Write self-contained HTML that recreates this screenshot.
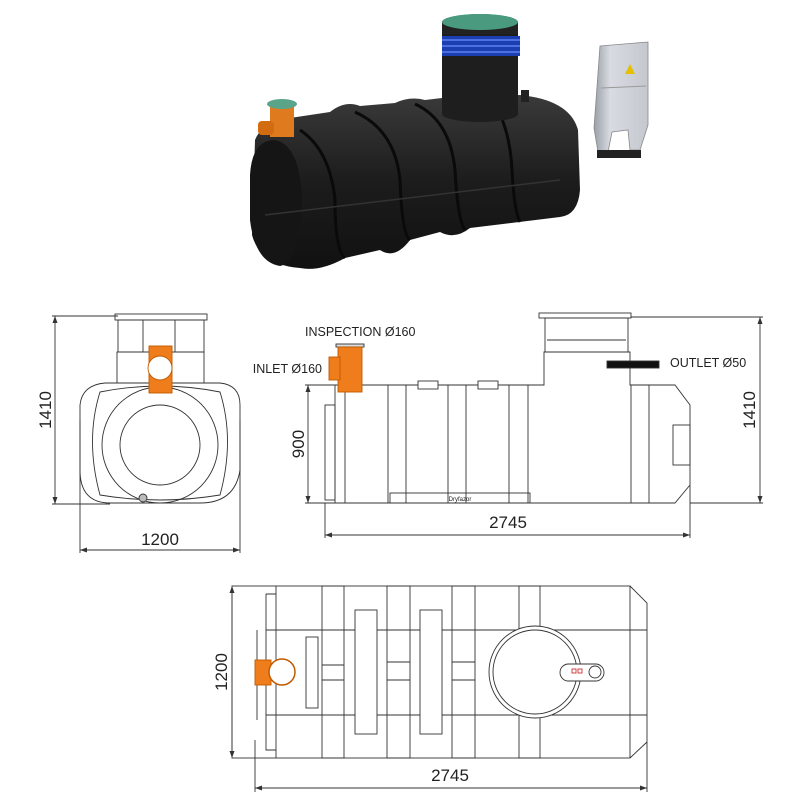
<!DOCTYPE html>
<html><head><meta charset="utf-8"><style>
html,body{margin:0;padding:0;background:#fff}
svg{display:block}
text{font-family:"Liberation Sans",sans-serif;fill:#222}
</style></head><body>
<svg width="800" height="800" viewBox="0 0 800 800" xmlns="http://www.w3.org/2000/svg">
<defs>
<linearGradient id="tk" x1="0" y1="0" x2="0" y2="1"><stop offset="0" stop-color="#3a3a3a"/><stop offset="0.5" stop-color="#1c1c1c"/><stop offset="1" stop-color="#111"/></linearGradient>
<linearGradient id="cab" x1="0" y1="0" x2="1" y2="0"><stop offset="0" stop-color="#9aa0a8"/><stop offset="0.3" stop-color="#d8dce2"/><stop offset="1" stop-color="#c4c8ce"/></linearGradient>
</defs>
<!-- 3D render -->
<g>
<path d="M255,140 Q262,122 290,118 L330,112 Q345,100 360,106 L395,103 Q410,96 425,100 L442,98 L520,95 Q570,100 578,130 L580,190 Q578,215 560,217 L470,228 Q455,240 440,232 L410,240 Q395,260 380,250 L345,258 Q320,272 300,268 Q260,265 252,235 Z" fill="url(#tk)"/>
<path d="M250,175 Q252,140 275,140 Q300,145 302,200 Q300,262 280,266 Q255,262 250,220 Z" fill="#151515"/>
<g stroke="#0a0a0a" stroke-width="3" fill="none">
<path d="M300,130 Q330,150 335,200 Q335,250 345,258"/>
<path d="M355,112 Q395,130 400,180 Q402,235 410,240"/>
<path d="M415,104 Q450,120 455,170 Q458,222 465,230"/>
<path d="M495,105 Q510,130 512,170 Q514,210 520,222"/>
</g>
<path d="M265,215 L560,180" stroke="#333" stroke-width="1.5"/>
<rect x="442" y="30" width="76" height="85" fill="#1e1e1e"/>
<ellipse cx="480" cy="114" rx="38" ry="8" fill="#1e1e1e"/>
<rect x="442" y="36" width="78" height="20" fill="#1b3fb0"/>
<g stroke="#4d70e0" stroke-width="2"><line x1="442" y1="40" x2="520" y2="40"/><line x1="442" y1="46" x2="520" y2="46"/><line x1="442" y1="52" x2="520" y2="52"/></g>
<ellipse cx="480" cy="22" rx="38" ry="8" fill="#3e8f75"/>
<rect x="442" y="22" width="76" height="12" fill="#222"/>
<ellipse cx="480" cy="22" rx="38" ry="8" fill="#4a9a80"/>
<rect x="521" y="90" width="8" height="12" fill="#222"/>
<rect x="270" y="105" width="24" height="32" fill="#e07a1e"/>
<rect x="258" y="121" width="16" height="14" rx="4" fill="#d36c10"/>
<ellipse cx="282" cy="104" rx="15" ry="5" fill="#5aa48a"/>
<!-- cabinet -->
<path d="M600,46 L648,42 L648,125 L640,150 L630,150 L628,130 L612,132 L608,152 L598,152 L594,128 Z" fill="url(#cab)" stroke="#888" stroke-width="0.8"/>
<rect x="597" y="150" width="44" height="8" fill="#222"/>
<line x1="601" y1="88" x2="646" y2="86" stroke="#999"/>
<polygon points="630,64 635,74 625,74" fill="#e5c000"/>
</g>

<g stroke="#333" stroke-width="0.9" fill="none">
<!-- FRONT VIEW -->
<rect x="115" y="314" width="92" height="6" fill="#fff"/>
<rect x="118" y="320" width="86" height="32"/>
<line x1="143" y1="320" x2="143" y2="352"/><line x1="175" y1="320" x2="175" y2="352"/>
<rect x="117" y="352" width="87" height="31"/>
<path d="M105,383 L220,383 Q240,385 240,405 L240,470 Q235,503 200,503 L110,503 Q80,503 80,470 L80,405 Q82,385 105,383 Z"/>
<path d="M100,392 Q160,380 220,392 Q235,440 220,495 Q160,505 100,495 Q85,440 100,392 Z"/>
<circle cx="160" cy="445" r="58"/>
<circle cx="160" cy="445" r="40"/>
<rect x="149" y="346" width="23" height="47" fill="#f07d1b" stroke="#c05a00"/>
<circle cx="160" cy="368" r="12" fill="#fff" stroke="#c05a00"/>
<circle cx="143" cy="498" r="4" fill="#bbb"/>
<!-- dims front -->
<line x1="55" y1="316" x2="55" y2="504"/><line x1="52" y1="316" x2="118" y2="316"/><line x1="52" y1="504" x2="110" y2="504"/>
<line x1="80" y1="420" x2="80" y2="553"/><line x1="240" y1="420" x2="240" y2="553"/>
<line x1="80" y1="550" x2="240" y2="550"/>

<!-- SIDE VIEW -->
<rect x="539" y="313" width="92" height="5" fill="#fff"/>
<rect x="545" y="318" width="83" height="34"/>
<line x1="547" y1="340" x2="626" y2="340"/>
<path d="M335,385 L544,385 L544,352 L630,352 L630,385 L675,385 L690,405 L690,485 L675,503 L335,503 Z"/>
<rect x="325" y="405" width="10" height="95"/>
<line x1="345" y1="388" x2="345" y2="503"/>
<rect x="388" y="385" width="18" height="118"/>
<rect x="448" y="385" width="18" height="118"/>
<rect x="509" y="385" width="19" height="118"/>
<rect x="631" y="385" width="18" height="118"/>
<rect x="418" y="381" width="20" height="8" fill="#fff"/>
<rect x="478" y="381" width="20" height="8" fill="#fff"/>
<rect x="390" y="493" width="140" height="10"/>
<rect x="673" y="425" width="17" height="40"/>
<rect x="336" y="344" width="28" height="3" fill="#ddd"/>
<rect x="338" y="347" width="24" height="45" fill="#f07d1b" stroke="#c05a00"/>
<rect x="329" y="357" width="11" height="23" fill="#f07d1b" stroke="#c05a00"/>
<rect x="607" y="361" width="52" height="7" fill="#111"/>
<!-- dims side -->
<line x1="308" y1="385" x2="308" y2="503"/><line x1="305" y1="385" x2="335" y2="385"/><line x1="305" y1="503" x2="335" y2="503"/>
<line x1="325" y1="503" x2="325" y2="538"/><line x1="690" y1="485" x2="690" y2="538"/>
<line x1="325" y1="535" x2="690" y2="535"/>
<line x1="760" y1="317" x2="760" y2="503"/><line x1="631" y1="317" x2="763" y2="317"/><line x1="690" y1="503" x2="763" y2="503"/>

<!-- PLAN VIEW -->
<rect x="232" y="586" width="398" height="172"/>
<path d="M630,586 L647,603 L647,742 L630,758"/>
<line x1="266" y1="630" x2="647" y2="630"/><line x1="266" y1="715" x2="647" y2="715"/>
<line x1="276" y1="586" x2="276" y2="758"/>
<path d="M266,594 L276,594 M266,594 L266,750 L276,750 M257,630 L257,720"/>
<rect x="322" y="586" width="22" height="172"/>
<rect x="387" y="586" width="23" height="172"/>
<rect x="452" y="586" width="23" height="172"/>
<rect x="519" y="586" width="21" height="172"/>
<line x1="322" y1="665" x2="344" y2="665"/><line x1="322" y1="680" x2="344" y2="680"/>
<line x1="387" y1="662" x2="410" y2="662"/><line x1="387" y1="680" x2="410" y2="680"/>
<line x1="452" y1="662" x2="475" y2="662"/><line x1="452" y1="680" x2="475" y2="680"/>
<rect x="355" y="610" width="22" height="124" fill="#fff"/>
<rect x="420" y="610" width="22" height="124" fill="#fff"/>
<rect x="306" y="637" width="12" height="71"/>
<circle cx="535" cy="672" r="46" fill="#fff"/>
<circle cx="535" cy="672" r="42"/>
<rect x="560" y="664" width="44" height="17" rx="8.5" fill="#fff"/>
<circle cx="595" cy="672" r="6"/>
<rect x="572" y="669" width="4" height="4" stroke="#c33"/><rect x="578" y="669" width="4" height="4" stroke="#c33"/>
<rect x="255" y="660" width="16" height="25" fill="#f07d1b" stroke="#c05a00"/>
<circle cx="282" cy="672" r="13" fill="#fff" stroke="#c05a00" stroke-width="1.5"/>
<!-- dims plan -->
<line x1="232" y1="586" x2="232" y2="758"/>
<line x1="255" y1="740" x2="255" y2="792"/><line x1="647" y1="742" x2="647" y2="792"/>
<line x1="255" y1="788" x2="647" y2="788"/>
</g>
<!-- arrowheads -->
<g fill="#333">
<path d="M55,316 l-2.5,7 h5z"/><path d="M55,504 l-2.5,-7 h5z"/>
<path d="M80,550 l7,-2.5 v5z"/><path d="M240,550 l-7,-2.5 v5z"/>
<path d="M308,385 l-2.5,7 h5z"/><path d="M308,503 l-2.5,-7 h5z"/>
<path d="M325,535 l7,-2.5 v5z"/><path d="M690,535 l-7,-2.5 v5z"/>
<path d="M760,317 l-2.5,7 h5z"/><path d="M760,503 l-2.5,-7 h5z"/>
<path d="M232,586 l-2.5,7 h5z"/><path d="M232,758 l-2.5,-7 h5z"/>
<path d="M255,788 l7,-2.5 v5z"/><path d="M647,788 l-7,-2.5 v5z"/>
</g>
<!-- texts -->
<text x="160" y="545" font-size="17" text-anchor="middle">1200</text>
<text transform="translate(51,410) rotate(-90)" font-size="17" text-anchor="middle">1410</text>
<text transform="translate(304,444) rotate(-90)" font-size="17" text-anchor="middle">900</text>
<text transform="translate(755,410) rotate(-90)" font-size="17" text-anchor="middle">1410</text>
<text x="508" y="528" font-size="17" text-anchor="middle">2745</text>
<text transform="translate(227,672) rotate(-90)" font-size="17" text-anchor="middle">1200</text>
<text x="450" y="781" font-size="17" text-anchor="middle">2745</text>
<text x="305" y="336" font-size="12.5">INSPECTION Ø160</text>
<text x="322" y="373" font-size="12.5" text-anchor="end">INLET Ø160</text>
<text x="670" y="367" font-size="12.5">OUTLET Ø50</text>
<text x="460" y="501" font-size="6" text-anchor="middle" font-family="Liberation Serif">Dryfazor</text>
</svg>
</body></html>
